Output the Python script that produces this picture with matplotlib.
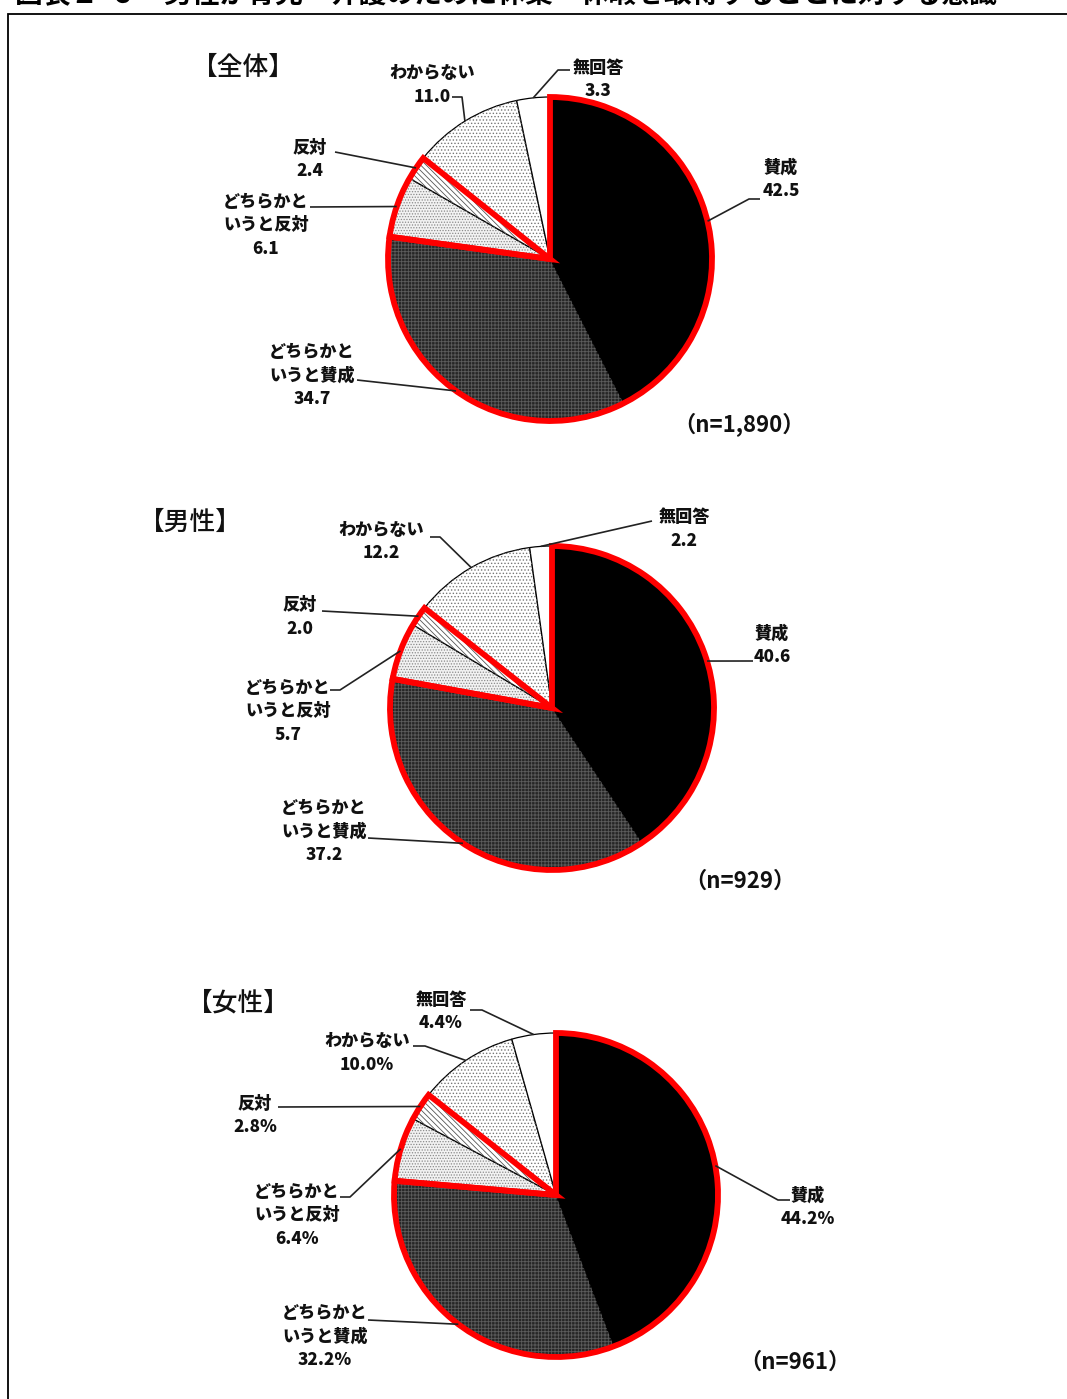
import matplotlib
matplotlib.use("Agg")
import matplotlib.pyplot as plt
from matplotlib.patches import Rectangle
import numpy as np

plt.rcParams['font.family'] = ['Noto Sans CJK JP', 'DejaVu Sans']
plt.rcParams['hatch.linewidth'] = 0.6

W, H = 1067, 1399

categories = ['賛成', 'どちらかと\nいうと賛成', 'どちらかと\nいうと反対', '反対', 'わからない', '無回答']
panel_titles = ['【全体】', '【男性】', '【女性】']
sample_sizes = ['1,890', '929', '961']
pct_suffix = ['', '', '%']

total_vals = [42.5, 34.7, 6.1, 2.4, 11.0, 3.3]
male_vals = [40.6, 37.2, 5.7, 2.0, 12.2, 2.2]
female_vals = [44.2, 32.2, 6.4, 2.8, 10.0, 4.4]
series = [total_vals, male_vals, female_vals]

# wedge styles: face, hatch, hatch colour
faces = ['black', '#262626', '#f2f2f2', 'white', 'white', 'white']
hatches = [None, '+++++', '......', '\\\\\\\\\\\\', '.....', None]
hatch_cols = ['black', '#5c5c5c', '#8a8a8a', '#555555', '#777777', 'white']

# layout in pixels (y measured from top)
centers = [(550, 259), (552, 708), (556, 1195)]
radius = 162
title_pos = [(243, 67), (190, 522), (238, 1003)]
n_pos = [(739, 425), (740, 881), (795, 1362)]
# label centre (x, y of first line), leader start, leader elbow
label_layout = [
    [((781, 168), (760, 199), (749, 199)),
     ((312, 352), (357, 380), (357, 380)),
     ((266, 202), (310, 207), (310, 207)),
     ((310, 148), (335, 152), (335, 152)),
     ((432, 73), (452, 97), (462, 97)),
     ((598, 68), (570, 70), (558, 70))],
    [((772, 634), (753, 661), (753, 661)),
     ((324, 808), (368, 838), (368, 838)),
     ((288, 688), (330, 690), (340, 690)),
     ((300, 605), (322, 611), (322, 611)),
     ((381, 530), (430, 537), (440, 537)),
     ((684, 517), (652, 521), (652, 521))],
    [((808, 1196), (790, 1200), (778, 1200)),
     ((325, 1313), (368, 1320), (368, 1320)),
     ((297, 1192), (340, 1197), (350, 1197)),
     ((255, 1104), (278, 1107), (278, 1107)),
     ((367, 1041), (413, 1046), (425, 1046)),
     ((441, 1000), (470, 1010), (482, 1010))],
]
line_h = 23.5


def Y(y):
    return H - y


fig = plt.figure(figsize=(W / 100, H / 100), dpi=100)
ax = fig.add_axes([0, 0, 1, 1])

for k, vals in enumerate(series):
    cx, cy = centers[k]
    c = (cx, Y(cy))

    wedges, _ = ax.pie(vals, colors=faces, startangle=90, counterclock=False,
                       center=c, radius=radius, frame=True,
                       wedgeprops=dict(edgecolor='black', linewidth=0.9))
    hw, _ = ax.pie(vals, startangle=90, counterclock=False, center=c,
                   radius=radius, frame=True,
                   wedgeprops=dict(fill=False, linewidth=0))
    for w, h, hc in zip(hw, hatches, hatch_cols):
        if h:
            w.set_hatch(h)
            w.set_edgecolor(hc)
        else:
            w.set_visible(False)

    # red outline round the approve / disapprove groups
    groups = [vals[0] + vals[1], vals[2] + vals[3], sum(vals[4:])]
    gw, _ = ax.pie(groups, startangle=90, counterclock=False, center=c,
                   radius=radius, frame=True,
                   wedgeprops=dict(fill=False, linewidth=4.2))
    gw[0].set_edgecolor('#ff0000')
    gw[1].set_edgecolor('#ff0000')
    gw[2].set_visible(False)

    # labels with leader lines to the arc at each slice's mid-angle
    for i, w in enumerate(wedges):
        mid = np.deg2rad((w.theta1 + w.theta2) / 2)
        px = cx + radius * np.cos(mid)
        py = Y(cy) + radius * np.sin(mid)
        (tx, ty), start, elbow = label_layout[k][i]
        lines = categories[i].split('\n') + ['{:.1f}{}'.format(vals[i], pct_suffix[k])]
        for j, s in enumerate(lines):
            ax.text(tx, Y(ty + j * line_h), s, ha='center', va='center',
                    fontsize=12.3, fontweight='heavy', color='#111111')
        ax.plot([start[0], elbow[0], px], [Y(start[1]), Y(elbow[1]), py],
                color='#222222', lw=1.2, solid_capstyle='butt')

    ax.text(title_pos[k][0], Y(title_pos[k][1]), panel_titles[k],
            ha='center', va='center', fontsize=18.5, fontweight='medium',
            color='#111111')
    ax.text(n_pos[k][0], Y(n_pos[k][1]), '（n={}）'.format(sample_sizes[k]),
            ha='center', va='center', fontsize=16, fontweight='bold',
            color='#111111')

ax.set_xlim(0, W)
ax.set_ylim(0, H)
ax.set_aspect('equal')
ax.axis('off')

# outer frame and heading running off the top edge
fig.patches.append(Rectangle((8 / W, -0.01), 1.05, (H - 14) / H + 0.01,
                             transform=fig.transFigure, fill=False,
                             edgecolor='black', linewidth=1.3))
fig.text(15 / W, (H + 5) / H, '図表２-６　男性が育児・介護のために休業・休暇を取得することに対する意識',
         ha='left', va='center', fontsize=20, fontweight='bold')

fig.savefig('out.png', dpi=100)
